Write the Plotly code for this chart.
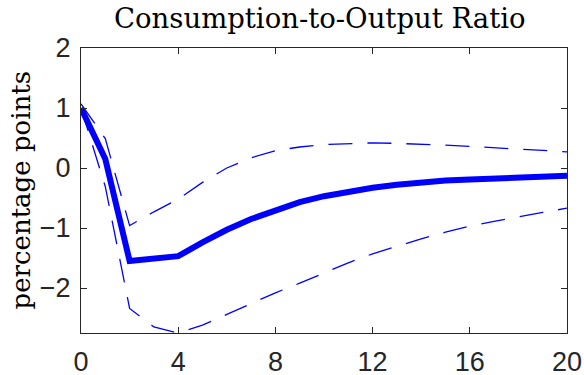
import plotly.graph_objects as go

horizon = list(range(21))
median = [1.0, 0.15, -1.55, -1.51, -1.47, -1.24, -1.03, -0.85, -0.70, -0.57, -0.47, -0.39, -0.33,
          -0.28, -0.24, -0.21, -0.19, -0.17, -0.155, -0.14, -0.13]
upper = [1.07, 0.49, -0.96, -0.73, -0.52, -0.24, 0.0, 0.17, 0.29, 0.35, 0.39, 0.41, 0.42,
         0.41, 0.40, 0.38, 0.36, 0.34, 0.32, 0.30, 0.27]
lower = [1.0, -0.31, -2.34, -2.65, -2.75, -2.62, -2.44, -2.26, -2.08, -1.92, -1.75, -1.58, -1.43,
         -1.30, -1.18, -1.07, -0.97, -0.89, -0.81, -0.74, -0.67]
x_ticks = [0, 4, 8, 12, 16, 20]
y_ticks = [-2, -1, 0, 1, 2]

blue = "#0000FF"
axis_col = "#262626"

fig = go.Figure()
for band in (upper, lower):
    fig.add_trace(go.Scatter(x=horizon, y=band, mode="lines",
                             line=dict(color=blue, width=1.3, dash="24px,15px"),
                             showlegend=False, hoverinfo="skip"))
fig.add_trace(go.Scatter(x=horizon, y=median, mode="lines",
                         line=dict(color=blue, width=6), showlegend=False))

axis_common = dict(showgrid=False, zeroline=False, showline=True, linecolor=axis_col,
                   linewidth=1.2, mirror="ticks", ticks="inside", ticklen=6,
                   tickcolor=axis_col, tickwidth=1, automargin=False,
                   tickfont=dict(family="Liberation Sans, Arial, sans-serif", size=27, color=axis_col))
fig.update_xaxes(range=[0, 20], tickvals=x_ticks, ticklabelstandoff=4, **axis_common)
fig.update_yaxes(range=[-2.75, 2], tickvals=y_ticks, ticklabelstandoff=4, **axis_common)

fig.update_layout(
    template="none",
    width=584, height=375,
    margin=dict(l=81, r=17, t=48, b=42),
    plot_bgcolor="white", paper_bgcolor="white",
    annotations=[
        dict(text="Consumption-to-Output Ratio", xref="paper", yref="paper",
             x=0.5, xshift=-4, y=1, yshift=12, xanchor="center", yanchor="bottom", showarrow=False,
             font=dict(family="DejaVu Serif", size=27.5, color="black")),
        dict(text="percentage points", xref="paper", yref="paper",
             x=0, xshift=-61, y=0.5, xanchor="center", yanchor="middle", textangle=-90,
             showarrow=False, font=dict(family="DejaVu Serif", size=26, color="black")),
    ],
)
# remove the page's default 8px body margin so the figure fills the window
fig.write_html("out.html", config={"displayModeBar": False},
               post_script="document.body.style.margin='0';")
